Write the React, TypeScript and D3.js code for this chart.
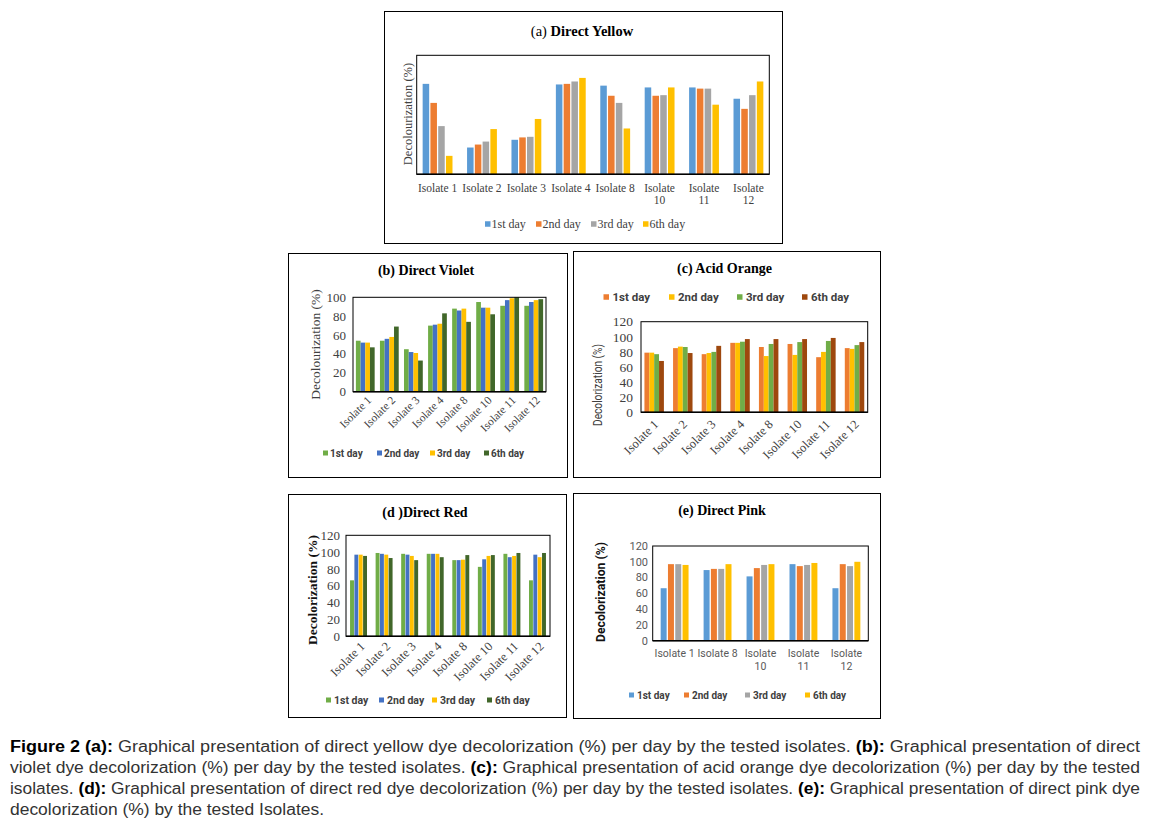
import React from "react";
import * as d3 from "d3";

// ---------- DATA ----------
const dayNames = ["1st day", "2nd day", "3rd day", "6th day"];
const isolatesAll = ["Isolate 1", "Isolate 2", "Isolate 3", "Isolate 4", "Isolate 8", "Isolate 10", "Isolate 11", "Isolate 12"];
const isolatesPink = ["Isolate 1", "Isolate 8", "Isolate 10", "Isolate 11", "Isolate 12"];

const yellowDay1 = [76, 22.5, 29, 75.5, 74.5, 73, 73, 63.5];
const yellowDay2 = [60, 25, 31, 76, 66, 66, 72, 55];
const yellowDay3 = [40.5, 27.5, 31.5, 78, 60, 66.5, 72, 66.5];
const yellowDay6 = [15.5, 38, 46.5, 81, 38.5, 73, 58.5, 78];

const violetDay1 = [54, 54, 45, 70, 88, 95, 91, 91];
const violetDay2 = [52, 56, 42, 71, 86, 89, 97, 95];
const violetDay3 = [52, 58, 41, 72, 88, 89, 99, 97];
const violetDay6 = [47, 69, 33, 83, 74, 82, 100, 98];

const orangeDay1 = [79, 85, 77, 92, 86.5, 90.5, 73, 85];
const orangeDay2 = [79, 87, 78.5, 92, 74.5, 76, 80, 84];
const orangeDay3 = [77, 86.5, 80, 93.5, 90.5, 93, 94.5, 89];
const orangeDay6 = [68, 78.5, 88, 97, 97, 97, 98.5, 93];

const redDay1 = [66.5, 99, 98, 98, 90.5, 82.5, 98, 66.5];
const redDay2 = [97, 98, 97, 98, 90.5, 91.5, 94, 97];
const redDay3 = [97, 97, 95.5, 98, 91, 95.5, 95.5, 94];
const redDay6 = [95.5, 93, 90.5, 94, 96.5, 96.5, 99, 99];

const pinkDay1 = [66.5, 89.5, 81.5, 97, 66.5];
const pinkDay2 = [97, 91, 92, 94.5, 97];
const pinkDay3 = [97, 91, 96, 96, 94.5];
const pinkDay6 = [96, 97, 97, 98.5, 100];

const ticks100 = [0, 20, 40, 60, 80, 100];
const ticks120 = [0, 20, 40, 60, 80, 100, 120];

// ---------- STYLE ----------
const SERIF = "'Liberation Serif','Times New Roman',serif";
const SANS = "Roboto,'Liberation Sans',Arial,sans-serif";
const NARROW = "'Liberation Sans Narrow','Arial Narrow','Liberation Sans',Arial,sans-serif";

const C = {
  blue: "#5B9BD5", orange: "#ED7D31", gray: "#A5A5A5", yellow: "#FFC000",
  green: "#70AD47", dblue: "#4472C4", dgreen: "#41672A", brown: "#9E480E",
};

const panels = [
  {
    key: "a",
    frame: { x: 384, y: 11, w: 398, h: 232 },
    plot: { x: 416.7, y: 55.3, w: 352.6, h: 119 },
    title: [{ t: "(a) ", w: 400 }, { t: "Direct Yellow", w: 700 }], titleX: 582, titleY: 36, titleSize: 14.5,
    categories: isolatesAll, series: [yellowDay1, yellowDay2, yellowDay3, yellowDay6],
    colors: [C.blue, C.orange, C.gray, C.yellow],
    yMax: 100, ticks: null,
    yLabel: "Decolourization (%)", yLabelX: 408, yLabelY: 114, yLabelFont: SERIF, yLabelSize: 12.5, yLabelWeight: 400, yLabelColor: "#404040",
    xMode: "wrap", xY: 192, xLH: 11.5, xFont: SERIF, xSize: 11.5, xColor: "#404040",
    legY: 224, legSq: 5.5, legXs: [485, 536, 591, 643], legDx: 6.5, legFont: SERIF, legSize: 12, legWeight: 400, legColor: "#404040",
    pi: 0.3, po: 0.12, fill: 0.84,
  },
  {
    key: "b",
    frame: { x: 288, y: 253, w: 279, h: 224 },
    plot: { x: 353, y: 297.3, w: 193, h: 94.4 },
    title: [{ t: "(b) Direct Violet", w: 700 }], titleX: 426, titleY: 275, titleSize: 14,
    categories: isolatesAll, series: [violetDay1, violetDay2, violetDay3, violetDay6],
    colors: [C.green, C.dblue, C.yellow, C.dgreen],
    yMax: 100, ticks: ticks100, tickRight: 346, tickFont: SERIF, tickSize: 13, tickColor: "#404040",
    yLabel: "Decolourization (%)", yLabelX: 315, yLabelY: 344.5, yLabelFont: SERIF, yLabelSize: 13.5, yLabelWeight: 400, yLabelColor: "#404040",
    xMode: "rot", xDx: 4, xY: 398, xFont: SERIF, xSize: 11.5, xColor: "#404040",
    legY: 453, legSq: 5, legXs: [323, 377, 430, 484], legDx: 7, legFont: SANS, legSize: 10, legWeight: 700, legColor: "#404040",
    pi: 0.22, po: 0.12, fill: 1,
  },
  {
    key: "c",
    frame: { x: 573, y: 251, w: 307, h: 226 },
    plot: { x: 641, y: 321.7, w: 226.7, h: 90.6 },
    title: [{ t: "(c) Acid Orange", w: 700 }], titleX: 724.5, titleY: 273, titleSize: 14,
    categories: isolatesAll, series: [orangeDay1, orangeDay2, orangeDay3, orangeDay6],
    colors: [C.orange, C.yellow, C.green, C.brown],
    yMax: 120, ticks: ticks120, tickRight: 633, tickFont: SERIF, tickSize: 13.5, tickColor: "#404040",
    yLabel: "Decolorization (%)", yLabelX: 597, yLabelY: 385, yLabelFont: SANS, yLabelSize: 13, yLabelWeight: 400, yLabelColor: "#404040", yLabelLen: 82,
    xMode: "rot", xDx: 2, xY: 422, xFont: SERIF, xSize: 12.5, xColor: "#404040",
    legY: 297, legSq: 5.5, legXs: [603.5, 669, 737, 802], legDx: 9, legFont: SANS, legSize: 11.5, legWeight: 700, legColor: "#404040",
    pi: 0.32, po: 0.12, fill: 1,
  },
  {
    key: "d",
    frame: { x: 288, y: 494, w: 278, h: 223 },
    plot: { x: 346, y: 535.3, w: 204, h: 101 },
    title: [{ t: "(d )Direct Red", w: 700 }], titleX: 425, titleY: 517, titleSize: 14,
    categories: isolatesAll, series: [redDay1, redDay2, redDay3, redDay6],
    colors: [C.green, C.dblue, C.yellow, C.dgreen],
    yMax: 120, ticks: ticks120, tickRight: 340, tickFont: SERIF, tickSize: 13, tickColor: "#404040",
    yLabel: "Decolorization (%)", yLabelX: 312, yLabelY: 590, yLabelFont: SERIF, yLabelSize: 13.5, yLabelWeight: 700, yLabelColor: "#111",
    xMode: "rot", xDx: 4, xY: 644, xFont: SERIF, xSize: 12.5, xColor: "#404040",
    legY: 700, legSq: 5, legXs: [326, 379, 432, 487], legDx: 8, legFont: SANS, legSize: 10.5, legWeight: 700, legColor: "#404040",
    pi: 0.32, po: 0.15, fill: 0.9,
  },
  {
    key: "e",
    frame: { x: 573, y: 493, w: 307, h: 225 },
    plot: { x: 652.7, y: 546, w: 215.6, h: 94.7 },
    title: [{ t: "(e) Direct Pink", w: 700 }], titleX: 722, titleY: 515, titleSize: 14,
    categories: isolatesPink, series: [pinkDay1, pinkDay2, pinkDay3, pinkDay6],
    colors: [C.blue, C.orange, C.gray, C.yellow],
    yMax: 120, ticks: ticks120, tickRight: 648, tickFont: SANS, tickSize: 11, tickColor: "#595959",
    yLabel: "Decolorization (%)", yLabelX: 600, yLabelY: 592, yLabelFont: SANS, yLabelSize: 13, yLabelWeight: 700, yLabelColor: "#111", yLabelLen: 100,
    xMode: "wrap", xY: 657, xLH: 13, xFont: SANS, xSize: 10.5, xColor: "#595959",
    legY: 695, legSq: 5, legXs: [629, 684, 745, 805], legDx: 8, legFont: SANS, legSize: 10, legWeight: 700, legColor: "#404040",
    pi: 0.32, po: 0.17, fill: 0.82,
  },
];

const captionLines = [
  { len: 1130, parts: [{ b: true, t: "Figure 2 (a):" }, { b: false, t: " Graphical presentation of direct yellow dye decolorization (%) per day by the tested isolates. " }, { b: true, t: "(b):" }, { b: false, t: " Graphical presentation of direct" }] },
  { len: 1130, parts: [{ b: false, t: "violet dye decolorization (%) per day by the tested isolates. " }, { b: true, t: "(c):" }, { b: false, t: " Graphical presentation of acid orange dye decolorization (%) per day by the tested" }] },
  { len: 1130, parts: [{ b: false, t: "isolates. " }, { b: true, t: "(d):" }, { b: false, t: " Graphical presentation of direct red dye decolorization (%) per day by the tested isolates. " }, { b: true, t: "(e):" }, { b: false, t: " Graphical presentation of direct pink dye" }] },
  { len: 314, parts: [{ b: false, t: "decolorization (%) by the tested Isolates." }] },
];

function Panel({ cfg }: { cfg: any }) {
  const { plot, frame } = cfg;
  const x0 = d3.scaleBand<string>().domain(cfg.categories).range([plot.x, plot.x + plot.w]).paddingInner(cfg.pi).paddingOuter(cfg.po);
  const x1 = d3.scaleBand<number>().domain(d3.range(cfg.series.length)).range([0, x0.bandwidth()]);
  const y = d3.scaleLinear().domain([0, cfg.yMax]).range([plot.y + plot.h, plot.y]);
  const bw = x1.bandwidth() * cfg.fill;
  const off = (x1.bandwidth() - bw) / 2;

  return (
    <g>
      <rect x={frame.x + 0.5} y={frame.y + 0.5} width={frame.w} height={frame.h} fill="#fff" stroke="#000" strokeWidth={1} />
      <text x={cfg.titleX} y={cfg.titleY} textAnchor="middle" fontFamily={SERIF} fontSize={cfg.titleSize} fill="#000">
        {cfg.title.map((p: any, i: number) => (
          <tspan key={i} fontWeight={p.w}>{p.t}</tspan>
        ))}
      </text>
      {cfg.categories.map((cat: string, ci: number) =>
        cfg.series.map((s: number[], si: number) => (
          <rect key={`${ci}-${si}`} x={(x0(cat) as number) + (x1(si) as number) + off} y={y(s[ci])}
            width={bw} height={y(0) - y(s[ci])} fill={cfg.colors[si]} />
        ))
      )}
      <rect x={plot.x} y={plot.y} width={plot.w} height={plot.h} fill="none" stroke="#000" strokeWidth={1} />
      <line x1={plot.x} x2={plot.x + plot.w} y1={y(0)} y2={y(0)} stroke="#000" strokeWidth={1.5} />
      {cfg.ticks && cfg.ticks.map((t: number) => (
        <text key={t} x={cfg.tickRight} y={y(t)} dy="0.35em" textAnchor="end" fontFamily={cfg.tickFont} fontSize={cfg.tickSize} fill={cfg.tickColor}>{t}</text>
      ))}
      <text transform={`translate(${cfg.yLabelX},${cfg.yLabelY}) rotate(-90)`} textAnchor="middle" dy="0.35em"
        fontFamily={cfg.yLabelFont} fontSize={cfg.yLabelSize} fontWeight={cfg.yLabelWeight} fill={cfg.yLabelColor}
        {...(cfg.yLabelLen ? { textLength: cfg.yLabelLen, lengthAdjust: "spacingAndGlyphs" } : {})}>
        {cfg.yLabel}
      </text>
      {cfg.categories.map((cat: string) => {
        const cx = (x0(cat) as number) + x0.bandwidth() / 2;
        if (cfg.xMode === "rot") {
          return (
            <text key={cat} transform={`translate(${cx + cfg.xDx},${cfg.xY}) rotate(-45)`} textAnchor="end" dy="0.35em"
              fontFamily={cfg.xFont} fontSize={cfg.xSize} fill={cfg.xColor}>{cat}</text>
          );
        }
        const lines = cat.length > 9 ? cat.split(" ") : [cat];
        return (
          <text key={cat} textAnchor="middle" fontFamily={cfg.xFont} fontSize={cfg.xSize} fill={cfg.xColor}>
            {lines.map((l: string, i: number) => (
              <tspan key={i} x={cx} y={cfg.xY + i * cfg.xLH}>{l}</tspan>
            ))}
          </text>
        );
      })}
      {dayNames.map((n, i) => (
        <g key={n}>
          <rect x={cfg.legXs[i]} y={cfg.legY - cfg.legSq / 2} width={cfg.legSq} height={cfg.legSq} fill={cfg.colors[i]} />
          <text x={cfg.legXs[i] + cfg.legDx} y={cfg.legY} dy="0.35em" fontFamily={cfg.legFont} fontSize={cfg.legSize}
            fontWeight={cfg.legWeight} fill={cfg.legColor}>{n}</text>
        </g>
      ))}
    </g>
  );
}

export default function App() {
  return (
    <svg width={1158} height={829} viewBox="0 0 1158 829"
      style={{ position: "absolute", left: 0, top: 0, display: "block", background: "#fff" }}>
      <rect x={0} y={0} width={1158} height={829} fill="#fff" />
      {panels.map((p) => <Panel key={p.key} cfg={p} />)}
      {captionLines.map((ln, i) => (
        <text key={i} x={10} y={752 + i * 21} fontFamily={NARROW} fontSize={16} fill="#333"
          textLength={ln.len} lengthAdjust="spacingAndGlyphs">
          {ln.parts.map((p, j) => (
            <tspan key={j} fontWeight={p.b ? 700 : 400} fill={p.b ? "#000" : "#333"}>{p.t}</tspan>
          ))}
        </text>
      ))}
    </svg>
  );
}
